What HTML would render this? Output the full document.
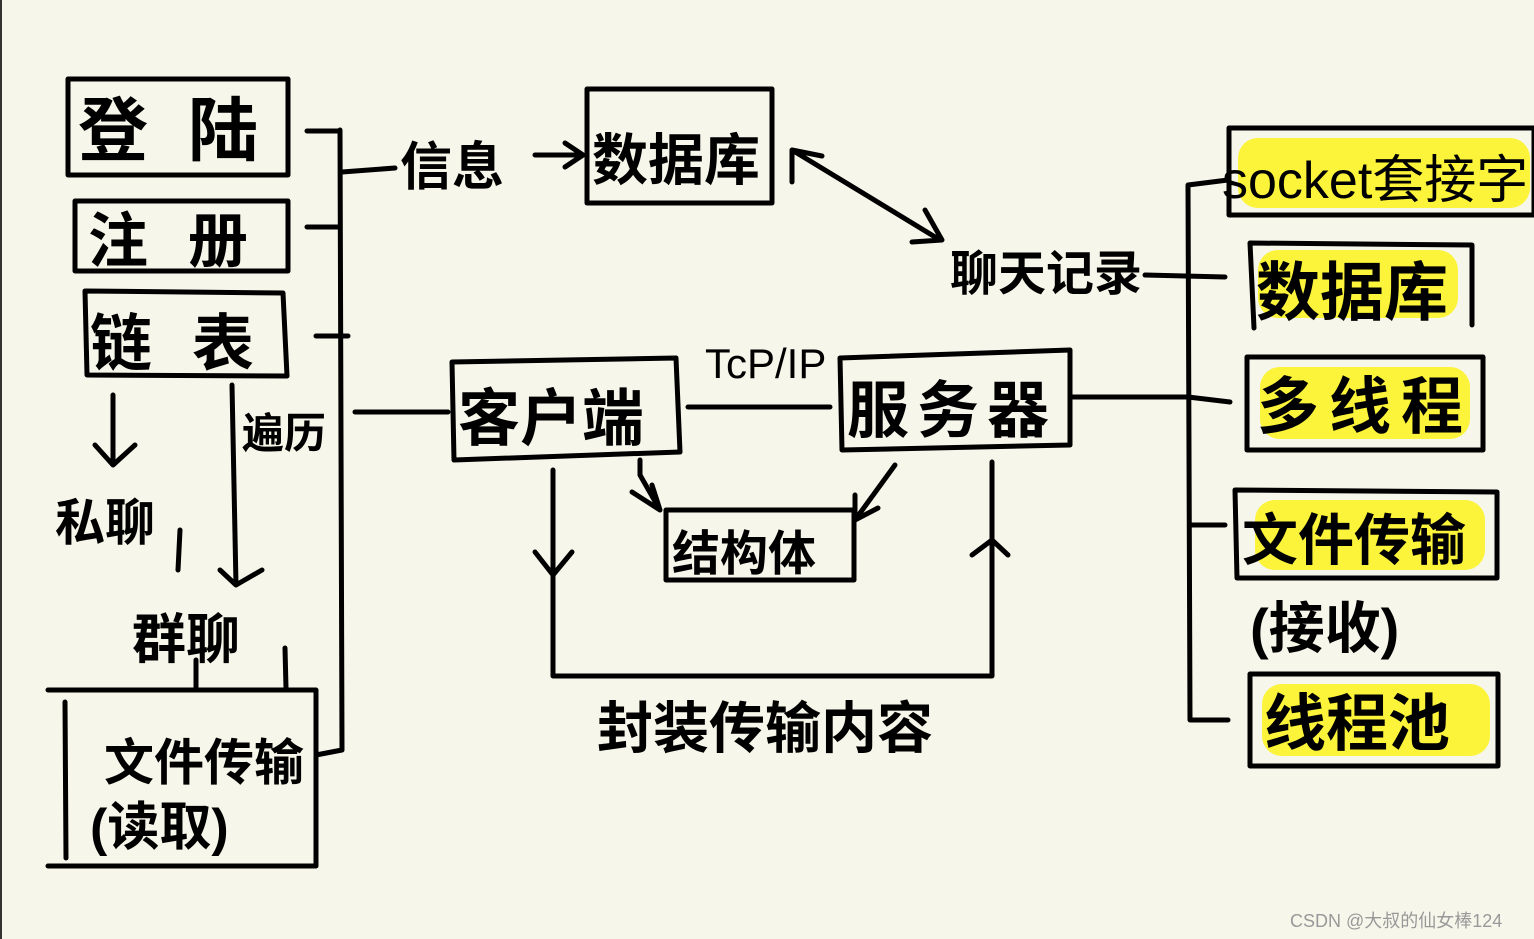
<!DOCTYPE html>
<html><head><meta charset="utf-8"><style>
html,body{margin:0;padding:0;background:#f7f6ea;}
svg{display:block}
text{font-family:"Liberation Sans","Noto Sans CJK SC",sans-serif;fill:#000;}
</style></head><body>
<svg width="1534" height="939" viewBox="0 0 1534 939" xmlns="http://www.w3.org/2000/svg">
<rect width="1534" height="939" fill="#f7f6ea"/>
<line x1="1" y1="0" x2="1" y2="939" stroke="#333" stroke-width="2"/>
<g fill="#fbf43a">
<rect x="1238" y="138" width="292" height="70" rx="20"/>
<rect x="1258" y="250" width="200" height="68" rx="20"/>
<rect x="1260" y="367" width="210" height="72" rx="20"/>
<rect x="1255" y="500" width="230" height="70" rx="20"/>
<rect x="1262" y="684" width="228" height="72" rx="20"/>
</g>
<g fill="none" stroke="#000" stroke-width="5" stroke-linecap="round" stroke-linejoin="round">
<rect x="68" y="79" width="220" height="96"/>
<rect x="75" y="201" width="213" height="70"/>
<path d="M85 291 L283 293 L287 376 L87 375 Z"/>
<path d="M48 690 L316 690 L316 866 L48 866 M65 702 L66 858"/>
<rect x="587" y="89" width="185" height="114"/>
<path d="M452 362 L676 358 L680 452 L454 460 Z"/>
<path d="M840 358 L1070 350 L1070 445 L842 450 Z"/>
<rect x="666" y="510" width="188" height="70"/>
<rect x="1229" y="128" width="305" height="87"/>
<path d="M1250 243 L1472 245 L1472 325 M1250 243 L1254 328"/>
<rect x="1247" y="357" width="236" height="93"/>
<path d="M1235 490 L1497 492 L1497 578 L1237 578 Z"/>
<rect x="1250" y="674" width="248" height="92"/>
<path d="M340 130 L342 750 L316 755 M307 131 L340 131 M307 227 L340 227 M316 336 L348 336 M342 172 L395 168"/>
<path d="M535 155 L582 155 M565 143 L583 155 L565 167"/>
<path d="M792 150 L940 240 M792 182 L792 150 L822 156 M925 210 L942 240 L912 242"/>
<path d="M1145 275 L1225 277"/>
<path d="M1188 185 L1190 720 L1228 720 M1188 185 L1228 180 M1070 397 L1188 397 L1230 402 M1190 525 L1225 525"/>
<path d="M355 412 L448 412 M688 407 L830 407"/>
<path d="M113 395 L113 465 M95 445 L113 465 L135 445"/>
<path d="M232 385 L236 585 M220 570 L236 585 L262 570"/>
<path d="M640 460 L640 475 L660 510 M632 492 L660 510 L652 485"/>
<path d="M895 465 L855 520 M855 495 L855 520 L878 508"/>
<path d="M553 470 L553 676 L992 676 L992 462 M535 552 L553 575 L572 552 M972 555 L992 540 L1008 555"/>
<path d="M180 530 L178 570 M196 660 L196 688 M285 648 L286 688"/>
</g>
<g font-weight="bold">
<text x="78" y="155" font-size="70" letter-spacing="40">登陆</text>
<text x="88" y="262" font-size="60" letter-spacing="40">注册</text>
<text x="90" y="365" font-size="62" letter-spacing="40">链表</text>
<text x="104" y="780" font-size="50">文件传输</text>
<text x="90" y="845" font-size="52">(读取)</text>
<text x="400" y="185" font-size="52">信息</text>
<text x="592" y="180" font-size="56">数据库</text>
<text x="950" y="290" font-size="48">聊天记录</text>
<text x="242" y="448" font-size="42">遍历</text>
<text x="55" y="540" font-size="50">私聊</text>
<text x="132" y="658" font-size="54">群聊</text>
<text x="458" y="440" font-size="62">客户端</text>
<text x="705" y="378" font-size="42" font-weight="normal">TcP/IP</text>
<text x="847" y="432" font-size="62" letter-spacing="8">服务器</text>
<text x="672" y="570" font-size="48">结构体</text>
<text x="597" y="748" font-size="56">封装传输内容</text>
<text x="1222" y="198" font-size="52" font-weight="normal">socket套接字</text>
<text x="1256" y="315" font-size="64">数据库</text>
<text x="1257" y="428" font-size="62" letter-spacing="10">多线程</text>
<text x="1242" y="560" font-size="56">文件传输</text>
<text x="1250" y="648" font-size="56">(接收)</text>
<text x="1264" y="745" font-size="62">线程池</text>
</g>
<text x="1290" y="927" font-size="18" style="fill:#999">CSDN @大叔的仙女棒124</text>
</svg>
</body></html>
